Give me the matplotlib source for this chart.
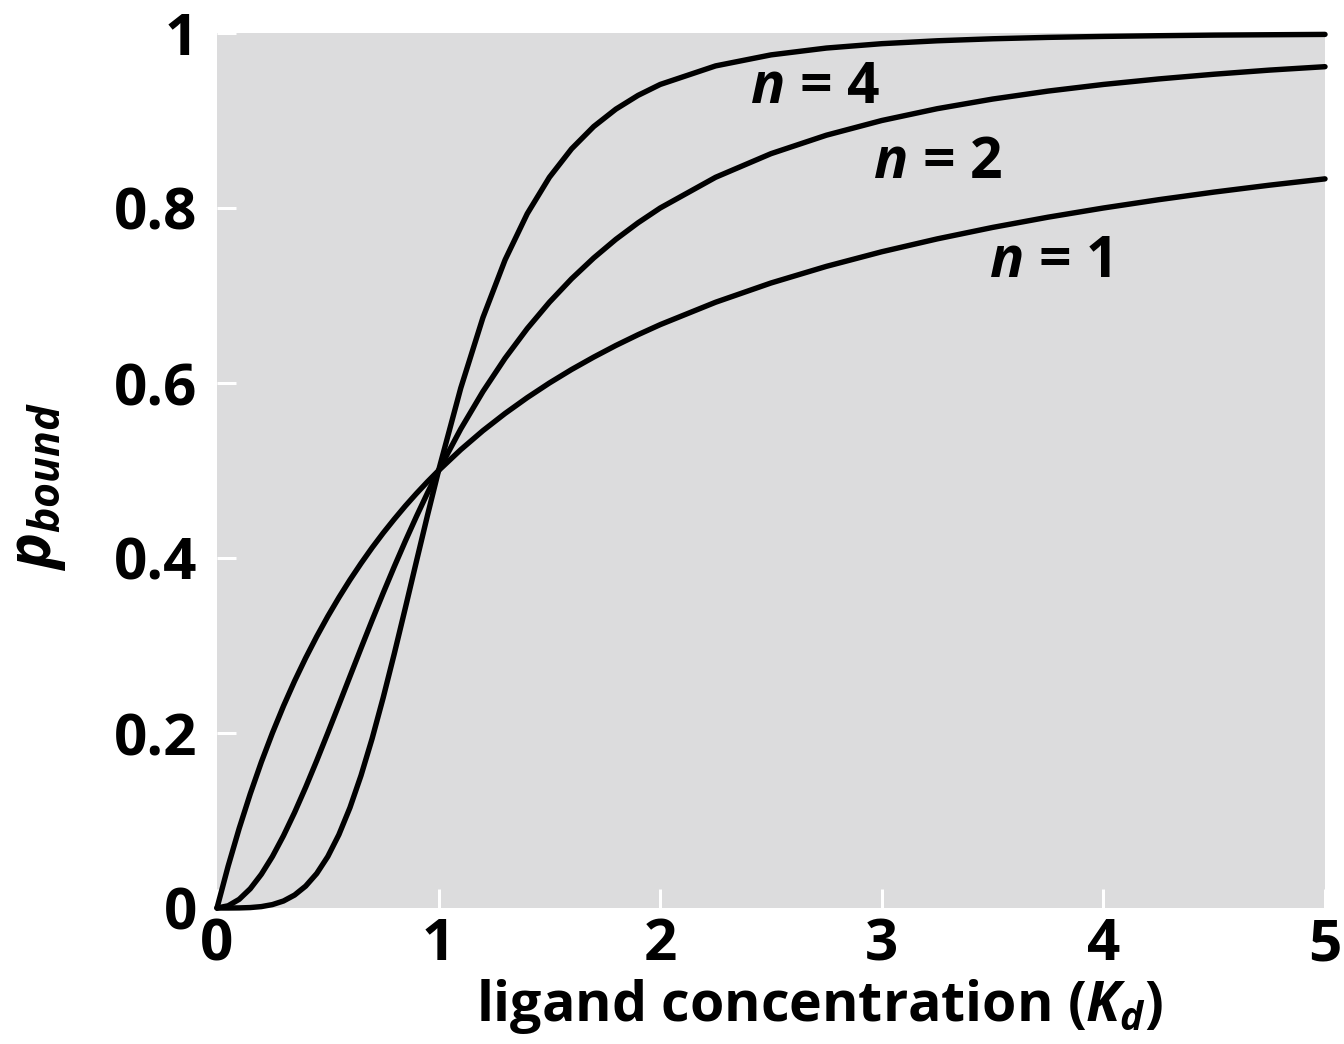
import matplotlib
matplotlib.use("Agg")
import matplotlib.pyplot as plt

# Data
x_vals = [0, 0.05, 0.1, 0.15, 0.2, 0.25, 0.3, 0.35, 0.4, 0.45, 0.5, 0.55, 0.6, 0.65,
          0.7, 0.75, 0.8, 0.85, 0.9, 0.95, 1.0, 1.1, 1.2, 1.3, 1.4, 1.5, 1.6, 1.7,
          1.8, 1.9, 2.0, 2.25, 2.5, 2.75, 3.0, 3.25, 3.5, 3.75, 4.0, 4.25, 4.5,
          4.75, 5.0]
p_n1 = [0, .0476, .0909, .1304, .1667, .2, .2308, .2593, .2857, .3103, .3333, .3548,
        .375, .3939, .4118, .4286, .4444, .4595, .4737, .4872, .5, .5238, .5455,
        .5652, .5833, .6, .6154, .6296, .6429, .6552, .6667, .6923, .7143, .7333,
        .75, .7647, .7778, .7895, .8, .8095, .8182, .8261, .8333]
p_n2 = [0, .0025, .0099, .0220, .0385, .0588, .0826, .1091, .1379, .1684, .2, .2322,
        .2647, .2970, .3289, .36, .3902, .4194, .4475, .4744, .5, .5475, .5902,
        .6283, .6622, .6923, .7191, .7429, .7642, .7831, .8, .8351, .8621, .8832,
        .9, .9135, .9245, .9336, .9412, .9475, .9529, .9576, .9615]
p_n4 = [0, .0000, .0001, .0005, .0016, .0039, .0080, .0148, .0250, .0394, .0588, .0838,
        .1147, .1515, .1936, .2404, .2906, .3430, .3962, .4489, .5, .5942, .6747,
        .7407, .7935, .8351, .8676, .8931, .9130, .9287, .9412, .9624, .9750, .9828,
        .9878, .9911, .9934, .9950, .9961, .9969, .9976, .9980, .9984]

series = [("1", p_n1), ("2", p_n2), ("4", p_n4)]
label_pos = {"4": (2.70, 0.937), "2": (3.25, 0.851), "1": (3.76, 0.738)}

x_ticks = [0, 1, 2, 3, 4, 5]
y_ticks = [0, 0.2, 0.4, 0.6, 0.8, 1]
y_ticklabels = ["0", "0.2", "0.4", "0.6", "0.8", "1"]

FONT = "Open Sans"
plt.rcParams["font.family"] = [FONT, "DejaVu Sans"]
plt.rcParams["font.weight"] = "bold"
plt.rcParams["mathtext.fontset"] = "custom"
plt.rcParams["mathtext.it"] = f"{FONT}:italic:bold"
plt.rcParams["mathtext.rm"] = f"{FONT}:bold"
plt.rcParams["mathtext.bf"] = f"{FONT}:bold"

fig = plt.figure(figsize=(13.44, 10.44), dpi=100)
ax = fig.add_axes([217/1344, 1 - 908/1044, (1325-217)/1344, (908-33)/1044])
ax.set_facecolor("#dcdcdd")
for s in ax.spines.values():
    s.set_visible(False)

for name, ys in series:
    ax.plot(x_vals, ys, color="black", lw=3.9, solid_capstyle="round",
            solid_joinstyle="round", clip_on=False, zorder=3)
    lx, ly = label_pos[name]
    ax.text(lx, ly, f"$n$ = {name}", fontsize=41, fontweight="bold",
            ha="center", va="center", zorder=4)

ax.set_xlim(0, 5)
ax.set_ylim(0, 1)
ax.set_xticks(x_ticks)
ax.set_xticklabels([str(t) for t in x_ticks])
ax.set_yticks(y_ticks)
ax.set_yticklabels(y_ticklabels)
ax.tick_params(axis="both", direction="in", length=14, width=2.2, color="white",
               labelsize=42)
ax.tick_params(axis="x", pad=6)
ax.tick_params(axis="y", pad=14)
for lab in ax.get_xticklabels() + ax.get_yticklabels():
    lab.set_fontweight("bold")

ax.set_xlabel("ligand concentration ($K_d$)", fontsize=40, fontweight="bold", labelpad=2)
ax.xaxis.label.set_x(0.544)
ax.set_ylabel("$p_{bound}$", fontsize=44, labelpad=33)
ax.yaxis.label.set_y(0.482)

fig.savefig("out.png", dpi=100)
